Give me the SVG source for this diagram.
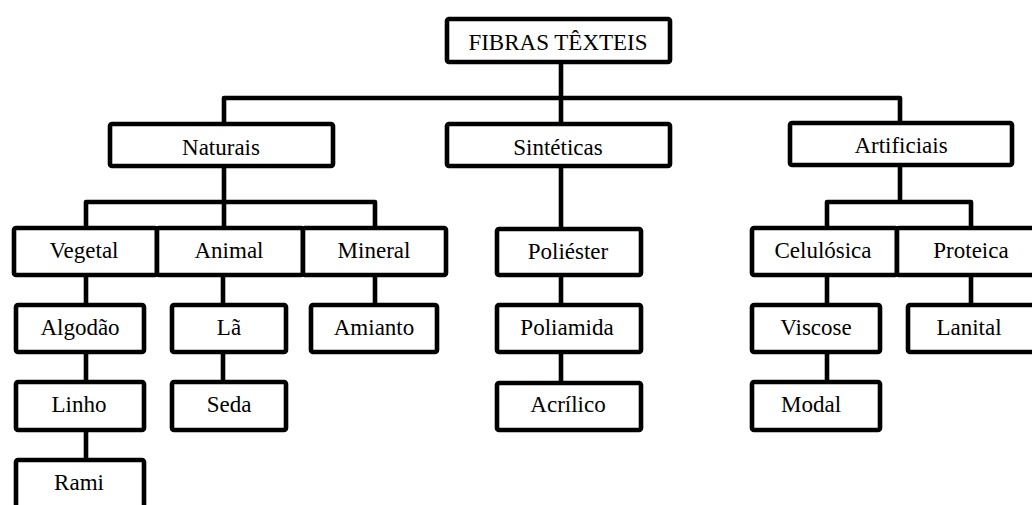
<svg xmlns="http://www.w3.org/2000/svg" width="1032" height="505" viewBox="0 0 1032 505">
<style>
.box{fill:#fff;stroke:#000;stroke-width:4.6;stroke-linejoin:round}
.lbl{font-family:"Liberation Serif","Times New Roman",serif;font-size:23px;fill:#000;text-anchor:middle}
.con{fill:none;stroke:#000;stroke-width:4.6;stroke-linejoin:round}
</style>
<rect width="1032" height="505" fill="#fff"/>
<g id="connectors">
<path class="con" d="M561 62V98M224 124V98H900V123M561 98V124"/>
<path class="con" d="M224 166V228M86 228V202H375V228"/>
<path class="con" d="M561 166V229"/>
<path class="con" d="M900 165V202M827 228V202H971V228"/>
<path class="con" d="M86 275V305M86 352V382M86 430V460"/>
<path class="con" d="M223 275V305M223 352V382"/>
<path class="con" d="M375 275V305"/>
<path class="con" d="M561 275V305M561 352V383"/>
<path class="con" d="M827 275V305M827 352V382"/>
<path class="con" d="M971 275V305"/>
</g>
<g id="fibras"><rect class="box" x="447" y="19" width="223" height="43" rx="2"/><text class="lbl" x="558" y="50">FIBRAS TÊXTEIS</text></g>
<g id="naturais"><rect class="box" x="110" y="124" width="223" height="42" rx="2"/><text class="lbl" x="221" y="155">Naturais</text></g>
<g id="sinteticas"><rect class="box" x="447" y="124" width="223" height="42" rx="2"/><text class="lbl" x="558" y="155">Sintéticas</text></g>
<g id="artificiais"><rect class="box" x="790" y="123" width="222" height="42" rx="2"/><text class="lbl" x="901" y="153">Artificiais</text></g>
<g id="vegetal"><rect class="box" x="14" y="228" width="143" height="47" rx="2"/><text class="lbl" x="84" y="258">Vegetal</text></g>
<g id="animal"><rect class="box" x="157" y="228" width="146" height="47" rx="2"/><text class="lbl" x="229" y="258">Animal</text></g>
<g id="mineral"><rect class="box" x="303" y="228" width="143" height="47" rx="2"/><text class="lbl" x="374" y="258">Mineral</text></g>
<g id="poliester"><rect class="box" x="497" y="229" width="144" height="46" rx="2"/><text class="lbl" x="568" y="259">Poliéster</text></g>
<g id="celulosica"><rect class="box" x="752" y="228" width="145" height="47" rx="2"/><text class="lbl" x="823" y="258">Celulósica</text></g>
<g id="proteica"><rect class="box" x="897" y="228" width="150" height="47" rx="2"/><text class="lbl" x="971" y="258">Proteica</text></g>
<g id="algodao"><rect class="box" x="16" y="305" width="128" height="47" rx="2"/><text class="lbl" x="80" y="335">Algodão</text></g>
<g id="la"><rect class="box" x="172" y="305" width="114" height="47" rx="2"/><text class="lbl" x="229" y="335">Lã</text></g>
<g id="amianto"><rect class="box" x="311" y="305" width="126" height="47" rx="2"/><text class="lbl" x="374" y="335">Amianto</text></g>
<g id="poliamida"><rect class="box" x="497" y="305" width="144" height="47" rx="2"/><text class="lbl" x="567" y="335">Poliamida</text></g>
<g id="viscose"><rect class="box" x="752" y="305" width="128" height="47" rx="2"/><text class="lbl" x="816" y="335">Viscose</text></g>
<g id="lanital"><rect class="box" x="908" y="305" width="140" height="47" rx="2"/><text class="lbl" x="969" y="335">Lanital</text></g>
<g id="linho"><rect class="box" x="16" y="382" width="128" height="48" rx="2"/><text class="lbl" x="79" y="412">Linho</text></g>
<g id="seda"><rect class="box" x="172" y="382" width="114" height="48" rx="2"/><text class="lbl" x="229" y="412">Seda</text></g>
<g id="acrilico"><rect class="box" x="497" y="383" width="144" height="47" rx="2"/><text class="lbl" x="568" y="412">Acrílico</text></g>
<g id="modal"><rect class="box" x="752" y="382" width="128" height="48" rx="2"/><text class="lbl" x="811" y="412">Modal</text></g>
<g id="rami"><rect class="box" x="16" y="460" width="128" height="60" rx="2"/><text class="lbl" x="79" y="490">Rami</text></g>
</svg>
